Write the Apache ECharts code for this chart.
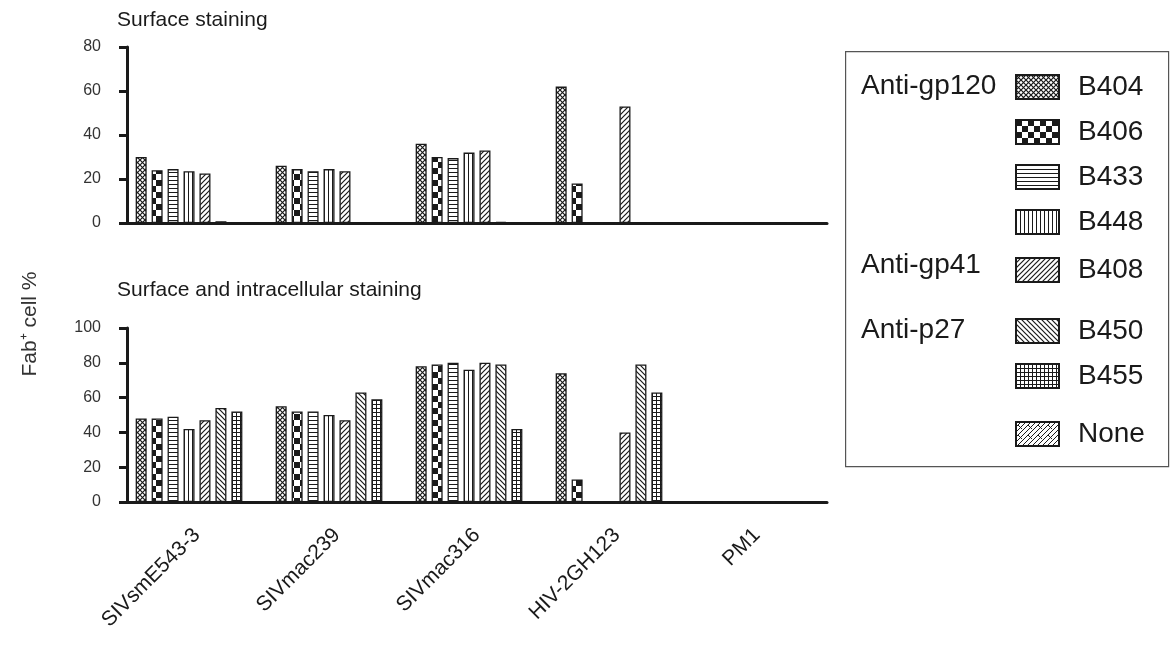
<!DOCTYPE html>
<html>
<head>
<meta charset="utf-8">
<script src="https://cdn.jsdelivr.net/npm/echarts@6/dist/echarts.min.js"></script>
<style>
  html, body { margin: 0; padding: 0; background: #fff; }
  #chart { width: 1171px; height: 650px; }
</style>
</head>
<body>
<div id="chart"></div>
<script>
const categories = ["SIVsmE543-3", "SIVmac239", "SIVmac316", "HIV-2GH123", "PM1"];
const antibodies = ["B404", "B406", "B433", "B448", "B408", "B450", "B455", "None"];

// surface staining, one row per antibody
const surfaceValues = [
  [30, 26, 36, 62, 0],
  [24, 24.5, 30, 18, 0],
  [24.5, 23.5, 29.5, 0, 0],
  [23.5, 24.5, 32, 0, 0],
  [22.5, 23.5, 33, 53, 0],
  [0.8, 0, 0.5, 0, 0],
  [0.4, 0, 0, 0, 0],
  [0, 0, 0, 0, 0]
];
// surface and intracellular staining
const totalValues = [
  [48, 55, 78, 74, 0],
  [48, 52, 79, 13, 0],
  [49, 52, 80, 0, 0],
  [42, 50, 76, 0, 0],
  [47, 47, 80, 40, 0],
  [54, 63, 79, 79, 0],
  [52, 59, 42, 63, 0],
  [0, 0, 0, 0, 0]
];
const surfaceTicks = [0, 80, 20];
const totalTicks = [0, 100, 20];

const FONT = "'Liberation Sans', Arial, sans-serif";
const INK = "#1a1a1a";

// pattern fills
function makePattern(size, draw) {
  const c = document.createElement("canvas");
  c.width = size; c.height = size;
  const ctx = c.getContext("2d");
  ctx.fillStyle = "#fff";
  ctx.fillRect(0, 0, size, size);
  ctx.strokeStyle = INK;
  ctx.fillStyle = INK;
  ctx.lineWidth = 1;
  draw(ctx, size);
  return { image: c, repeat: "repeat" };
}
const patterns = [
  makePattern(5, (ctx, s) => { // fine crosshatch
    ctx.lineWidth = 1.2;
    ctx.beginPath();
    ctx.moveTo(0, 0); ctx.lineTo(s, s);
    ctx.moveTo(s, 0); ctx.lineTo(0, s);
    ctx.stroke();
  }),
  makePattern(12, (ctx, s) => { // checkerboard
    ctx.fillRect(0, 0, 6, 6);
    ctx.fillRect(6, 6, 6, 6);
  }),
  makePattern(4, (ctx, s) => { // horizontal lines
    ctx.fillRect(0, 0, s, 1);
  }),
  makePattern(4, (ctx, s) => { // vertical lines
    ctx.fillRect(0, 0, 1, s);
  }),
  makePattern(5, (ctx, s) => { // "/" diagonal
    ctx.lineWidth = 1.2;
    ctx.beginPath();
    ctx.moveTo(-1, s + 1); ctx.lineTo(s + 1, -1);
    ctx.moveTo(-1, 1); ctx.lineTo(1, -1);
    ctx.moveTo(s - 1, s + 1); ctx.lineTo(s + 1, s - 1);
    ctx.stroke();
  }),
  makePattern(5, (ctx, s) => { // "\" diagonal
    ctx.lineWidth = 1.2;
    ctx.beginPath();
    ctx.moveTo(-1, -1); ctx.lineTo(s + 1, s + 1);
    ctx.moveTo(s - 1, -1); ctx.lineTo(s + 1, 1);
    ctx.moveTo(-1, s - 1); ctx.lineTo(1, s + 1);
    ctx.stroke();
  }),
  makePattern(4, (ctx, s) => { // grid
    ctx.fillRect(0, 0, s, 1);
    ctx.fillRect(0, 0, 1, s);
  }),
  makePattern(10, (ctx, s) => { // brick diagonal
    ctx.beginPath();
    ctx.moveTo(0, s); ctx.lineTo(s, 0);
    ctx.moveTo(0, s / 2); ctx.lineTo(s / 2, 0);
    ctx.moveTo(s / 2, s); ctx.lineTo(s, s / 2);
    ctx.moveTo(2, 3); ctx.lineTo(6, 7);
    ctx.stroke();
  })
];

const myChart = echarts.init(document.getElementById("chart"));

function xAxisFor(gridIndex, showLabel) {
  return {
    type: "category",
    gridIndex: gridIndex,
    data: categories,
    axisLine: { lineStyle: { color: INK, width: 3 } },
    axisTick: { alignWithLabel: true, length: 10, lineStyle: { color: INK, width: 3 } },
    axisLabel: {
      show: showLabel,
      rotate: 45,
      margin: 30,
      fontSize: 21,
      color: INK,
      fontFamily: FONT
    }
  };
}
function yAxisFor(gridIndex, ticks) {
  return {
    type: "value",
    gridIndex: gridIndex,
    min: ticks[0],
    max: ticks[1],
    interval: ticks[2],
    splitLine: { show: false },
    axisLine: { show: true, lineStyle: { color: INK, width: 3 } },
    axisTick: { show: true, length: 8, lineStyle: { color: INK, width: 3 } },
    axisLabel: { margin: 26, fontSize: 16, color: "#333", fontFamily: FONT }
  };
}

const series = [];
antibodies.forEach((name, i) => {
  const base = {
    name: name,
    type: "bar",
    barWidth: 11,
    barGap: "45%",
    animation: false,
    itemStyle: { color: patterns[i], borderColor: INK, borderWidth: 1.3 }
  };
  series.push(Object.assign({}, base, { xAxisIndex: 0, yAxisIndex: 0, data: surfaceValues[i] }));
  series.push(Object.assign({}, base, { xAxisIndex: 1, yAxisIndex: 1, data: totalValues[i] }));
});

function legendFor(names, top) {
  return {
    data: names,
    orient: "vertical",
    left: 1015,
    top: top,
    padding: 0,
    itemWidth: 43,
    itemHeight: 24,
    itemGap: 17,
    icon: "rect",
    selectedMode: false,
    textStyle: { fontSize: 28, lineHeight: 24, color: INK, fontFamily: FONT, padding: [0, 0, 0, 14] }
  };
}

const option = {
  backgroundColor: "#fff",
  textStyle: { fontFamily: FONT },
  grid: [
    { left: 127, top: 47, width: 700, height: 176 },
    { left: 127, top: 328, width: 700, height: 174 }
  ],
  xAxis: [xAxisFor(0, false), xAxisFor(1, true)],
  yAxis: [yAxisFor(0, surfaceTicks), yAxisFor(1, totalTicks)],
  legend: [
    legendFor(antibodies.slice(0, 4), 73),
    legendFor(antibodies.slice(4, 5), 256),
    legendFor(antibodies.slice(5, 7), 317),
    legendFor(antibodies.slice(7, 8), 420)
  ],
  graphic: [
    {
      type: "rect", left: 845, top: 51, z: -1,
      shape: { width: 323, height: 415 },
      style: { fill: "#fff", stroke: "#555", lineWidth: 1.2 }
    },
    { type: "text", x: 117, y: 20, style: { text: "Surface staining", fontSize: 21, fill: INK, fontFamily: FONT, verticalAlign: "middle" } },
    { type: "text", x: 117, y: 290, style: { text: "Surface and intracellular staining", fontSize: 21, fill: INK, fontFamily: FONT, verticalAlign: "middle" } },
    {
      type: "text", x: 30, y: 324, rotation: Math.PI / 2,
      style: { text: "Fab\u207A cell %", fontSize: 21, fill: "#333", fontFamily: FONT, align: "center", verticalAlign: "middle" }
    },
    { type: "text", x: 861, y: 86, style: { text: "Anti-gp120", fontSize: 28, fill: INK, fontFamily: FONT, verticalAlign: "middle" } },
    { type: "text", x: 861, y: 265, style: { text: "Anti-gp41", fontSize: 28, fill: INK, fontFamily: FONT, verticalAlign: "middle" } },
    { type: "text", x: 861, y: 330, style: { text: "Anti-p27", fontSize: 28, fill: INK, fontFamily: FONT, verticalAlign: "middle" } }
  ],
  series: series
};
myChart.setOption(option);
</script>
</body>
</html>
